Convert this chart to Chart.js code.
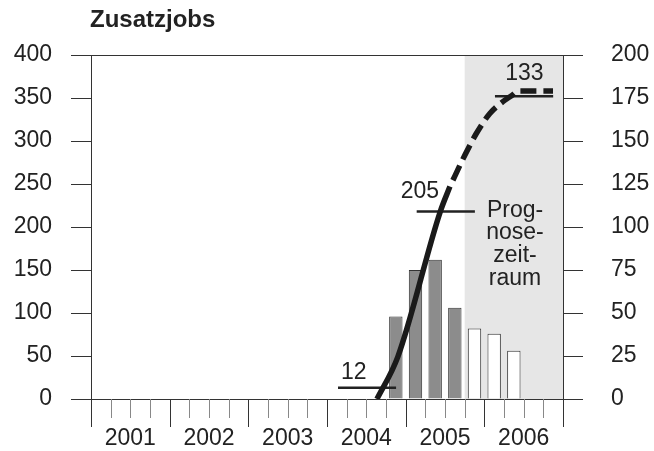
<!DOCTYPE html>
<html>
<head>
<meta charset="utf-8">
<script src="https://cdn.jsdelivr.net/npm/chart.js@4"></script>
<style>
  body { margin: 0; background: #fff; }
  canvas { display: block; }
</style>
</head>
<body>
<canvas id="myChart" width="654" height="451"></canvas>
<script>
const years = ["2001", "2002", "2003", "2004", "2005", "2006"];

// quarterly bars, right axis
const barQuarters = ["2004-Q4", "2005-Q1", "2005-Q2", "2005-Q3", "2005-Q4", "2006-Q1", "2006-Q2"];
const barValues = [48, 75, 81, 53, 41, 38, 28];
const forecastFrom = "2005-Q4";

// thick curve, left axis (time as decimal year)
const actualTime = [2004.635, 2004.9, 2005.44, 2005.5625];
const actualValue = [0, 49, 218, 247];
const forecastTime = [2005.5625, 2005.755, 2005.9, 2006.07, 2006.24, 2006.35, 2006.43, 2006.873];
const forecastValue = [247, 284, 309, 332, 346, 353, 358, 358];

// thin marker lines with their numbers
const markerLabels = ["12", "205", "133"];
const markerValues = [13, 218, 352];
const markerFrom = [2004.14, 2005.14, 2006.135];
const markerTo = [2004.878, 2005.88, 2006.875];
const markerLabelX = [2004.34, 2005.18, 2006.51];
const markerLabelY = [31, 241, 378];

const forecastNote = ["Prog-", "nose-", "zeit-", "raum"];

const FONT = '"Liberation Sans", Arial, sans-serif';

function quarterStart(q) {
  const [y, n] = q.split("-Q");
  return +y + (n - 1) / 4;
}

const extras = {
  id: "extras",
  beforeDraw(chart) {
    const { ctx, chartArea: a, scales: { x } } = chart;
    const x0 = x.getPixelForValue(quarterStart(forecastFrom));
    ctx.save();
    ctx.fillStyle = "#e6e6e6";
    ctx.fillRect(x0, a.top, a.right - x0, a.bottom - a.top);
    ctx.restore();
  },
  afterDraw(chart) {
    const { ctx, chartArea: a, scales: { x, y } } = chart;
    ctx.save();
    // title
    ctx.font = "bold 24px " + FONT;
    ctx.fillStyle = "#222";
    ctx.textAlign = "left";
    ctx.textBaseline = "middle";
    ctx.fillText("Zusatzjobs", a.left - 1, 20);

    // quarter / year ticks below the axis
    ctx.lineWidth = 1;
    for (let q = 0; q <= years.length * 4; q++) {
      const px = Math.round(x.getPixelForValue(+years[0] + q / 4)) + 0.5;
      const isYear = q % 4 === 0;
      ctx.strokeStyle = isYear ? "#333" : "#888";
      ctx.beginPath();
      ctx.moveTo(px, a.bottom);
      ctx.lineTo(px, a.bottom + (isYear ? 28 : 19));
      ctx.stroke();
    }

    // marker numbers
    ctx.font = "23px " + FONT;
    ctx.textAlign = "center";
    ctx.textBaseline = "middle";
    markerLabels.forEach((t, i) => {
      ctx.fillText(t, x.getPixelForValue(markerLabelX[i]), y.getPixelForValue(markerLabelY[i]));
    });

    // forecast note
    ctx.textBaseline = "alphabetic";
    const nx = x.getPixelForValue(2006.39);
    const ny = y.getPixelForValue(212);
    forecastNote.forEach((t, i) => ctx.fillText(t, nx, ny + i * 22.8));
    ctx.restore();
  }
};

const datasets = [
  {
    type: "line",
    data: actualTime.map((t, i) => ({ x: t, y: actualValue[i] })),
    borderColor: "#1a1a1a",
    borderWidth: 5.5,
    borderCapStyle: "butt",
    pointRadius: 0,
    cubicInterpolationMode: "monotone",
    yAxisID: "y",
    order: 0
  },
  {
    type: "line",
    data: forecastTime.map((t, i) => ({ x: t, y: forecastValue[i] })),
    borderColor: "#1a1a1a",
    borderWidth: 5.5,
    borderDash: [16, 7],
    borderDashOffset: 16,
    borderCapStyle: "butt",
    pointRadius: 0,
    cubicInterpolationMode: "monotone",
    yAxisID: "y",
    order: 0
  }
];

markerValues.forEach((v, i) => {
  datasets.push({
    type: "line",
    data: [{ x: markerFrom[i], y: v }, { x: markerTo[i], y: v }],
    borderColor: "#222",
    borderWidth: 2.5,
    pointRadius: 0,
    yAxisID: "y",
    order: 1
  });
});

datasets.push({
  type: "bar",
  data: barQuarters.map((q, i) => ({ x: quarterStart(q) + 0.125, y: barValues[i] })),
  backgroundColor: barQuarters.map(q => quarterStart(q) >= quarterStart(forecastFrom) ? "#ffffff" : "#8c8c8c"),
  borderColor: "#333",
  borderWidth: 1,
  barPercentage: 0.68,
  categoryPercentage: 1,
  yAxisID: "y1",
  order: 2
});

const config = {
  type: "bar",
  data: { datasets: datasets },
  options: {
    responsive: false,
    animation: false,
    layout: { padding: { top: 55 } },
    plugins: {
      legend: { display: false },
      tooltip: { enabled: false },
      title: { display: false }
    },
    scales: {
      x: {
        type: "linear",
        offset: false,
        min: +years[0],
        max: +years[years.length - 1] + 1,
        grid: { display: false, drawTicks: false, offset: false },
        border: { display: true, color: "#333", width: 1 },
        afterBuildTicks: s => { s.ticks = years.map(yr => ({ value: +yr + 0.5 })); },
        afterFit: s => { s.height = 52; },
        ticks: {
          autoSkip: false,
          maxRotation: 0,
          padding: 26,
          color: "#222",
          font: { family: FONT, size: 23 },
          callback: v => String(Math.floor(v))
        }
      },
      y: {
        position: "left",
        min: 0,
        max: 400,
        afterFit: s => { s.width = 91; },
        ticks: { stepSize: 50, padding: 19, color: "#222", font: { family: FONT, size: 23 } },
        grid: {
          tickLength: 20,
          tickColor: "#333",
          color: c => (c.tick && c.tick.value === 400 ? "#333" : "rgba(0,0,0,0)")
        },
        border: { color: "#333" }
      },
      y1: {
        position: "right",
        min: 0,
        max: 200,
        afterFit: s => { s.width = 91; },
        ticks: { stepSize: 25, padding: 28, color: "#222", font: { family: FONT, size: 23 } },
        grid: { drawOnChartArea: false, tickLength: 20, tickColor: "#333" },
        border: { color: "#333" }
      }
    }
  },
  plugins: [extras]
};

let myChart = new Chart(document.getElementById("myChart"), config);
</script>
</body>
</html>
